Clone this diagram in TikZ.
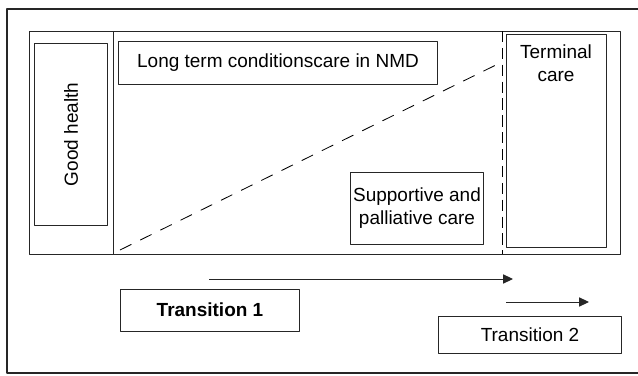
\documentclass[tikz,border=0pt]{standalone}
\usepackage{fontspec}
\setmainfont{Liberation Sans}
\usetikzlibrary{arrows.meta,positioning}
\tikzset{
  box/.style={draw=black!85, line width=0.7pt, inner sep=2pt, align=center},
  frame/.style={draw=black!85, line width=0.6pt},
  arr/.style={black!85, line width=0.7pt, -{Triangle[length=7pt,width=6.5pt]}}
}
\begin{document}
\begin{tikzpicture}[x=0.025cm, y=-0.025cm, font=\fontsize{13.5}{16}\selectfont, line join=round]
\useasboundingbox (0,0) rectangle (638,375);
%outer frame
\draw[black!85, line width=1pt] (645,9) -- (7,9) -- (7,373) -- (645,373);
%inner frame
\draw[frame] (29,31) rectangle (620,254);
\draw[frame] (113,31) -- (113,254);
\path (120,250) coordinate(S)
(502,31) coordinate(T)
(502,62) coordinate(E)
(502,254) coordinate(B)
;
\draw[dash pattern=on 9pt off 7pt, line width=0.6pt] (S) -- (E);
\draw[dash pattern=on 8pt off 4pt, line width=0.6pt] (T) -- (B);
%boxes
\node[box, rotate=90, minimum width=4.525cm, minimum height=1.8cm] (good) at (71,134.5) {Good health};
\node[box, minimum width=7.95cm, minimum height=1.075cm] (ltc) at (278,62.5) {Long term conditionscare in NMD};
\node[box, minimum width=2.5cm, minimum height=5.3cm] (term) at (556,141) {};
\node[align=center, below=4pt of term.north] (termtxt) {Terminal\\care};
\node[box, minimum width=3.3cm, minimum height=1.8cm, inner sep=1pt] (supp) at (417,208) {Supportive and\\palliative care};
\node[box, minimum width=4.45cm, minimum height=1.05cm, font=\fontsize{13.5}{16}\selectfont\bfseries] (tr1) at (210,310) {Transition 1};
\node[box, minimum width=4.55cm, minimum height=0.925cm] (tr2) at (530,334.5) {Transition 2};
%arrows
\path (209,279) coordinate(a1)
(513,279) coordinate(b1)
(506,302) coordinate(a2)
(589,302) coordinate(b2)
;
\draw[arr] (a1) -- (b1);
\draw[arr] (a2) -- (b2);
\end{tikzpicture}
\end{document}
